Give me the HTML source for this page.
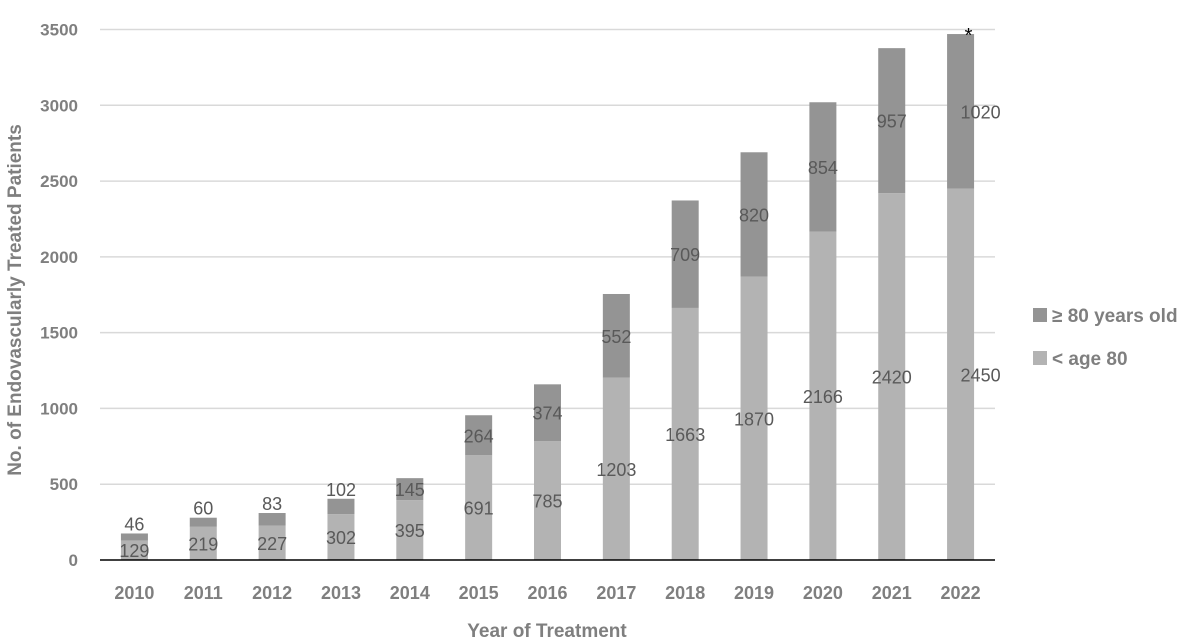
<!DOCTYPE html>
<html><head><meta charset="utf-8"><style>
html,body{margin:0;padding:0;background:#fff;}
svg{display:block;font-family:"Liberation Sans",Arial,sans-serif;}
</style></head><body>
<svg id="chart" width="1200" height="644" viewBox="0 0 1200 644">
<g id="grid"></g>
<g id="bars"></g>
<g id="labels"></g>
<g id="axes"></g>
<text x="0" y="0" transform="translate(21,300) rotate(-90)" text-anchor="middle" font-size="19" font-weight="bold" fill="#7f7f7f">No. of Endovascularly Treated Patients</text>
<text x="547" y="637" text-anchor="middle" font-size="19" font-weight="bold" fill="#7f7f7f">Year of Treatment</text>
<g>
<g>
<rect x="1033" y="308" width="14" height="14" fill="#949494"/>
<text x="1052" y="322" font-size="19" font-weight="bold" fill="#7f7f7f">≥ 80 years old</text>
</g>
<g>
<rect x="1033" y="351" width="14" height="14" fill="#b3b3b3"/>
<text x="1052" y="365" font-size="19" font-weight="bold" fill="#7f7f7f">&lt; age 80</text>
</g>
</g>
</svg>
<script>
const years = ["2010","2011","2012","2013","2014","2015","2016","2017","2018","2019","2020","2021","2022"];
const under80 = [129,219,227,302,395,691,785,1203,1663,1870,2166,2420,2450];
const over80 = [46,60,83,102,145,264,374,552,709,820,854,957,1020];
const yTicks = [0,500,1000,1500,2000,2500,3000,3500];

const NS = "http://www.w3.org/2000/svg";
const x0 = 100, x1 = 995, yBase = 560, yTop = 29.5, yMax = 3500;
const step = (x1 - x0) / years.length;
const barW = 27;
function xScale(i){ return x0 + step * (i + 0.5); }
function yScale(v){ return yBase - (v / yMax) * (yBase - yTop); }
function mk(tag, attrs, parent){
  const el = document.createElementNS(NS, tag);
  for (const k in attrs) el.setAttribute(k, attrs[k]);
  parent.appendChild(el);
  return el;
}
const grid = document.getElementById("grid");
const bars = document.getElementById("bars");
const labels = document.getElementById("labels");
const axes = document.getElementById("axes");

yTicks.forEach(t => {
  const y = yScale(t);
  if (t > 0) {
    const ln = mk("line", {x1:x0, x2:x1, y1:y, y2:y, stroke:"#d9d9d9", "stroke-width":1.5}, grid);
    
    
  }
  const tx = mk("text", {x:78, y:y+6, "text-anchor":"end", "font-size":17, "font-weight":"bold", fill:"#7f7f7f"}, axes);
  tx.textContent = t;
  
  
});
const base = mk("line", {x1:x0, x2:x1, y1:yBase, y2:yBase, stroke:"#000", "stroke-width":1.5}, axes);



years.forEach((yr, i) => {
  const cx = xScale(i);
  const yu = yScale(under80[i]);
  const yo = yScale(under80[i] + over80[i]);
  const r1 = mk("rect", {x:cx-barW/2, y:yu, width:barW, height:yBase-yu, fill:"#b3b3b3"}, bars);
  
  
  const r2 = mk("rect", {x:cx-barW/2, y:yo, width:barW, height:yu-yo, fill:"#949494"}, bars);
  
  

  const off = (i === years.length - 1) ? 20 : 0;
  const l1 = mk("text", {x:cx+off, y:(yu+yBase)/2+7, "text-anchor":"middle", "font-size":18, fill:"#595959"}, labels);
  l1.textContent = under80[i];
  
  
  const small = (yu - yo) < 20;
  const ly = small ? yo - 3 : (yo+yu)/2+7;
  const l2 = mk("text", {x:cx+off, y:ly, "text-anchor":"middle", "font-size":18, fill:"#595959"}, labels);
  l2.textContent = over80[i];
  
  

  const xt = mk("text", {x:cx, y:599, "text-anchor":"middle", "font-size":18, "font-weight":"bold", fill:"#7f7f7f"}, axes);
  xt.textContent = yr;
  
  

  if (i === years.length - 1) {
    const st = mk("text", {x:cx+8, y:yo+8, "text-anchor":"middle", "font-size":20, fill:"#000"}, labels);
    st.textContent = "*";
    
    
  }
});
</script>
</body></html>
